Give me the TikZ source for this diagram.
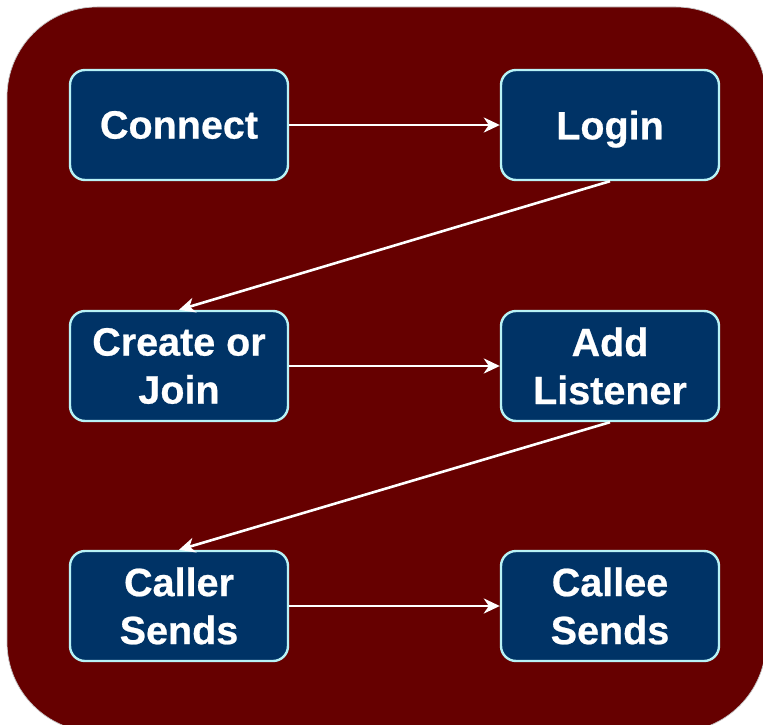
\documentclass[tikz,border=0pt]{standalone}
\usepackage{fontspec}
\setmainfont{Liberation Sans}[BoldFeatures={FakeBold=0.6}]
\usetikzlibrary{arrows.meta}
\definecolor{panelred}{HTML}{660000}
\definecolor{boxblue}{HTML}{003366}
\definecolor{boxedge}{HTML}{B8F2F6}
\newcommand{\nodesc}[1]{\raisebox{0pt}[\height][0pt]{#1}}
\tikzset{
  stepbox/.style={draw=boxedge, line width=2.4pt, fill=boxblue, rounded corners=15pt,
    minimum width=218pt, minimum height=110pt, inner sep=0pt, align=center,
    text=white, font=\fontsize{39.5}{48}\selectfont\bfseries},
  flow/.style={draw=white, line width=2.6pt,
    -{Stealth[length=16pt, width=15pt, inset=5pt]}}
}
\begin{document}
\begin{tikzpicture}[x=1pt, y=-1pt]
  \useasboundingbox (0,0) rectangle (763,725);
  \begin{scope}
    \clip (0,0) rectangle (763,725);
    \fill[white] (0,0) rectangle (763,725);
    \draw[fill=panelred, draw=gray!45, line width=0.7pt, rounded corners=90pt]
      (7,7) rectangle (766,732);
  \end{scope}

  \node[stepbox] (connect) at (179,125) {Connect};
  \node[stepbox] (login)   at (610,125) {\nodesc{Login}};
  \node[stepbox] (create)  at (179,366) {Create or\\Join};
  \node[stepbox] (listen)  at (610,366) {Add\\Listener};
  \node[stepbox] (caller)  at (179,606) {Caller\\Sends};
  \node[stepbox] (callee)  at (610,606) {Callee\\Sends};

  \draw[flow] (connect) -- (login);
  \draw[flow] (login.south) -- (create.north);
  \draw[flow] (create) -- (listen);
  \draw[flow] (listen.south) -- (caller.north);
  \draw[flow] (caller) -- (callee);
\end{tikzpicture}
\end{document}
